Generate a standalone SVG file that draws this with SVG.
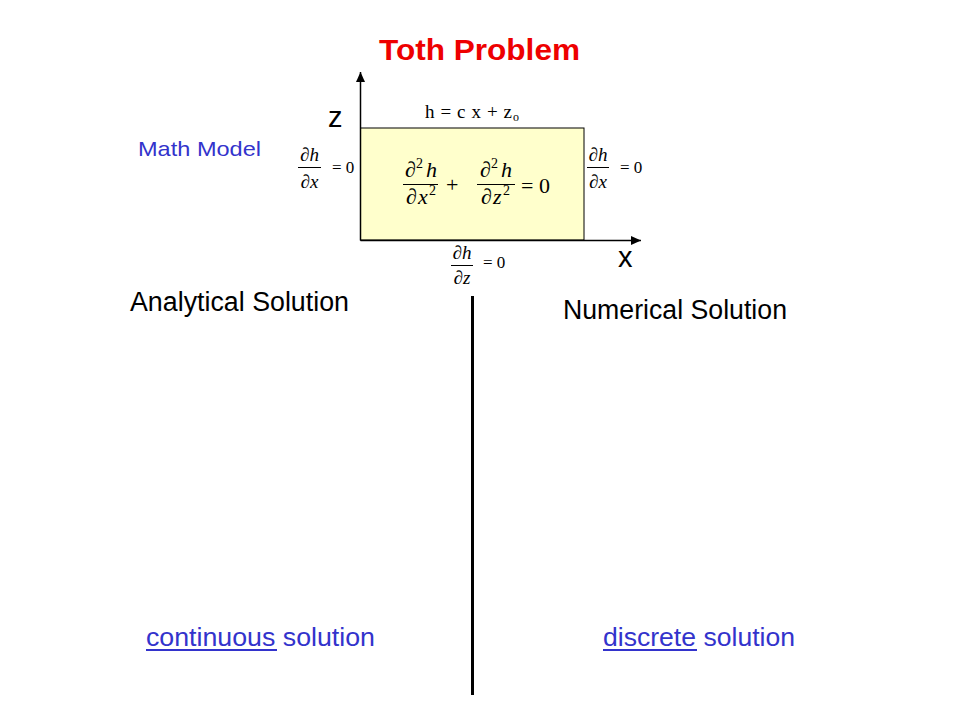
<svg xmlns="http://www.w3.org/2000/svg" width="960" height="720" viewBox="0 0 960 720">
<style>
.sans{font-family:"Liberation Sans",Arial,sans-serif}
.serif{font-family:"Liberation Serif","Times New Roman",serif}
.blue{fill:#3333cc}
.blk{fill:#000}
.it{font-style:italic}
.frac{stroke:#000;stroke-width:1}
</style>
<defs>
<marker id="arr" markerUnits="userSpaceOnUse" markerWidth="10" markerHeight="12" refX="10" refY="4.5" orient="auto">
<path d="M0,0 L10,4.5 L0,9 Z" fill="#000"/>
</marker>
</defs>
<rect width="960" height="720" fill="#fff"/>

<g id="title"><text class="sans" x="379" y="60" font-size="30" font-weight="bold" fill="#ee0000" textLength="201" lengthAdjust="spacingAndGlyphs">Toth Problem</text></g>

<g id="math-model"><text class="sans blue" x="138" y="156" font-size="21" textLength="123" lengthAdjust="spacingAndGlyphs">Math Model</text></g>

<g id="domain"><rect x="360.5" y="128" width="223.5" height="112" fill="#ffffcc" stroke="#000" stroke-width="1"/></g>

<g id="connectors" stroke="#000" stroke-width="1.5" fill="none">
<line x1="360.5" y1="240.5" x2="360.5" y2="72" marker-end="url(#arr)"/>
<line x1="360.5" y1="240.5" x2="641" y2="240.5" marker-end="url(#arr)"/>
</g>

<g id="axis-z"><text class="sans blk" x="328" y="127" font-size="29">z</text></g>
<g id="axis-x"><text class="sans blk" x="618" y="267" font-size="29">x</text></g>

<g id="bc-top" class="serif blk">
<text x="425" y="118" font-size="19" textLength="87" lengthAdjust="spacing">h = c x + z</text>
<text x="513" y="121" font-size="12">o</text>
</g>

<g id="bc-left" class="serif blk">
<text x="309.5" y="161" font-size="19" text-anchor="middle">∂<tspan class="it">h</tspan></text>
<line class="frac" x1="298" y1="167.5" x2="321" y2="167.5"/>
<text x="309.5" y="188" font-size="19" text-anchor="middle">∂<tspan class="it">x</tspan></text>
<text x="332" y="173" font-size="17">= 0</text>
</g>

<g id="bc-right" class="serif blk">
<text x="598" y="161" font-size="19" text-anchor="middle">∂<tspan class="it">h</tspan></text>
<line class="frac" x1="587" y1="167.5" x2="609" y2="167.5"/>
<text x="598" y="188" font-size="19" text-anchor="middle">∂<tspan class="it">x</tspan></text>
<text x="620" y="173" font-size="17">= 0</text>
</g>

<g id="bc-bottom" class="serif blk">
<text x="462" y="259" font-size="19" text-anchor="middle">∂<tspan class="it">h</tspan></text>
<line class="frac" x1="451" y1="265.5" x2="473" y2="265.5"/>
<text x="462" y="284" font-size="19" text-anchor="middle">∂<tspan class="it">z</tspan></text>
<text x="483" y="268" font-size="17">= 0</text>
</g>

<g id="equation" class="serif blk">
<text y="177" font-size="22"><tspan x="405">∂</tspan><tspan x="416" dy="-9" font-size="14">2</tspan><tspan x="426" dy="9" class="it">h</tspan></text>
<line class="frac" x1="403" y1="184.5" x2="438" y2="184.5"/>
<text y="204" font-size="22"><tspan x="406">∂</tspan><tspan x="418" class="it">x</tspan><tspan x="429" dy="-9" font-size="14">2</tspan></text>
<text x="446" y="192" font-size="22">+</text>
<text y="177" font-size="22"><tspan x="480">∂</tspan><tspan x="491" dy="-9" font-size="14">2</tspan><tspan x="501" dy="9" class="it">h</tspan></text>
<line class="frac" x1="477" y1="184.5" x2="515" y2="184.5"/>
<text y="204" font-size="22"><tspan x="481">∂</tspan><tspan x="493" class="it">z</tspan><tspan x="503" dy="-9" font-size="14">2</tspan></text>
<text x="521" y="193" font-size="22">= 0</text>
</g>

<g id="divider"><line x1="472.5" y1="296" x2="472.5" y2="695" stroke="#000" stroke-width="3"/></g>

<g id="analytical"><text class="sans blk" x="130" y="311" font-size="27" textLength="219" lengthAdjust="spacingAndGlyphs">Analytical Solution</text></g>
<g id="numerical"><text class="sans blk" x="563" y="319" font-size="27" textLength="224" lengthAdjust="spacingAndGlyphs">Numerical Solution</text></g>

<g id="continuous">
<text class="sans blue" x="146" y="646" font-size="25" textLength="229" lengthAdjust="spacingAndGlyphs">continuous solution</text>
<line x1="146" y1="650" x2="277" y2="650" stroke="#3333cc" stroke-width="2"/>
</g>
<g id="discrete">
<text class="sans blue" x="603" y="646" font-size="25" textLength="192" lengthAdjust="spacingAndGlyphs">discrete solution</text>
<line x1="603" y1="650" x2="697" y2="650" stroke="#3333cc" stroke-width="2"/>
</g>
</svg>
